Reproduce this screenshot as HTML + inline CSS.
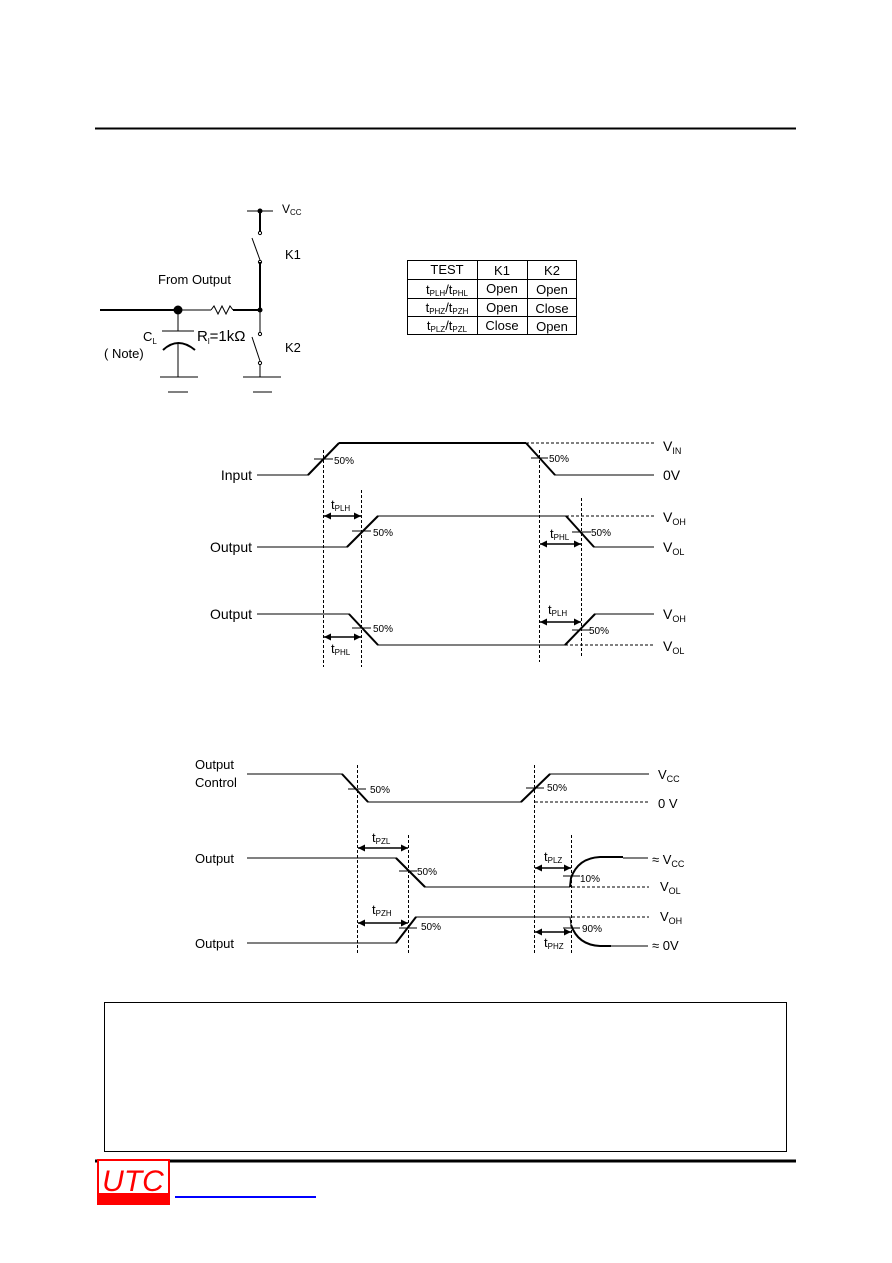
<!DOCTYPE html>
<html><head><meta charset="utf-8"><style>
html,body{margin:0;padding:0;background:#fff}
svg{display:block}
text{font-family:"Liberation Sans",Arial,sans-serif;fill:#000}
</style></head><body>
<svg width="892" height="1263" viewBox="0 0 892 1263" xmlns="http://www.w3.org/2000/svg">
<defs>
<marker id="ah" viewBox="0 0 10 10" refX="10" refY="5" markerWidth="10" markerHeight="7" orient="auto-start-reverse" markerUnits="userSpaceOnUse"><path d="M0,0 L10,5 L0,10z" fill="#000"/></marker>
</defs>
<line x1="95" y1="128.5" x2="796" y2="128.5" stroke="#000" stroke-width="2"/>

<!-- circuit -->
<g stroke="#000" fill="none">
<line x1="247" y1="211" x2="273" y2="211" stroke-width="1"/>
<line x1="260" y1="211" x2="260" y2="232" stroke-width="2"/>
<line x1="252" y1="238" x2="260" y2="260" stroke-width="1"/>
<line x1="260" y1="262" x2="260" y2="310" stroke-width="2"/>
<line x1="100" y1="310" x2="178" y2="310" stroke-width="2"/>
<line x1="178" y1="310" x2="211" y2="310" stroke-width="1"/>
<polyline points="211,310 214,306 218,314 222,306 226,314 230,306 233,310" stroke-width="1"/>
<line x1="233" y1="310" x2="260" y2="310" stroke-width="2"/>
<line x1="260" y1="310" x2="260" y2="332" stroke-width="1"/>
<line x1="252" y1="337" x2="260" y2="361" stroke-width="1"/>
<line x1="260" y1="364" x2="260" y2="377" stroke-width="1"/>
<line x1="243" y1="377" x2="281" y2="377"/>
<line x1="253" y1="392" x2="272" y2="392"/>
<line x1="178" y1="310" x2="178" y2="331"/>
<line x1="162" y1="331" x2="194" y2="331"/>
<path d="M163,350 Q178,336 195,350" stroke-width="2"/>
<line x1="178" y1="343" x2="178" y2="377"/>
<line x1="160" y1="377" x2="198" y2="377"/>
<line x1="168" y1="392" x2="188" y2="392"/>
<circle cx="260" cy="233" r="1.6"/><circle cx="260" cy="262" r="1.6"/>
<circle cx="260" cy="334" r="1.6"/><circle cx="260" cy="363" r="1.6"/>
</g>
<circle cx="260" cy="211" r="2.5" fill="#000"/>
<circle cx="260" cy="310" r="2.5" fill="#000"/>
<circle cx="178" cy="310" r="4.5" fill="#000"/>
<text x="282" y="213" font-size="12">V<tspan font-size="8" dy="2">CC</tspan></text>
<text x="285" y="259" font-size="13">K1</text>
<text x="158" y="284" font-size="13">From Output</text>
<text x="143" y="341" font-size="13">C<tspan font-size="8" dy="3">L</tspan></text>
<text x="104" y="358" font-size="13">( Note)</text>
<text x="197" y="341" font-size="15">R<tspan font-size="8" dy="3">l</tspan><tspan dy="-3">=1kΩ</tspan></text>
<text x="285" y="352" font-size="13">K2</text>

<!-- table -->
<g stroke="#000" stroke-width="1" fill="none">
<rect x="407.5" y="260.5" width="169" height="74"/>
<line x1="477.5" y1="260" x2="477.5" y2="335"/>
<line x1="527.5" y1="260" x2="527.5" y2="335"/>
<line x1="407" y1="279.5" x2="577" y2="279.5"/>
<line x1="407" y1="298.5" x2="577" y2="298.5"/>
<line x1="407" y1="316.5" x2="577" y2="316.5"/>
</g>
<g font-size="13" text-anchor="middle">
<text x="447" y="274">TEST</text><text x="502" y="275">K1</text><text x="552" y="275">K2</text>
<text x="447" y="294" font-size="13">t<tspan font-size="8" dy="2">PLH</tspan><tspan dy="-2">/t</tspan><tspan font-size="8" dy="2">PHL</tspan></text>
<text x="502" y="293">Open</text><text x="552" y="294">Open</text>
<text x="447" y="312" font-size="13">t<tspan font-size="8" dy="2">PHZ</tspan><tspan dy="-2">/t</tspan><tspan font-size="8" dy="2">PZH</tspan></text>
<text x="502" y="312">Open</text><text x="552" y="313">Close</text>
<text x="447" y="330" font-size="13">t<tspan font-size="8" dy="2">PLZ</tspan><tspan dy="-2">/t</tspan><tspan font-size="8" dy="2">PZL</tspan></text>
<text x="502" y="330">Close</text><text x="552" y="331">Open</text>
</g>

<!-- timing 1 -->
<g stroke="#000" fill="none" stroke-width="1">
<polyline points="257,475 308,475 339,443 526,443 555,475 654,475"/>
<polyline points="339,443 526,443" stroke-width="2"/>
<polyline points="308,475 339,443" stroke-width="2"/><polyline points="526,443 555,475" stroke-width="2"/>
<polyline points="257,547 347,547 378,516 566,516 594,547 654,547"/>
<polyline points="347,547 378,516" stroke-width="2"/><polyline points="566,516 594,547" stroke-width="2"/>
<polyline points="257,614 349,614 378,645 565,645 595,614 654,614"/>
<polyline points="349,614 378,645" stroke-width="2"/><polyline points="565,645 595,614" stroke-width="2"/>
<g stroke-dasharray="3,2">
<line x1="526" y1="443" x2="654" y2="443"/>
<line x1="566" y1="516" x2="654" y2="516"/>
<line x1="565" y1="645" x2="654" y2="645"/>
<line x1="323.5" y1="450" x2="323.5" y2="667"/>
<line x1="361.5" y1="490" x2="361.5" y2="667"/>
<line x1="539.5" y1="450" x2="539.5" y2="662"/>
<line x1="581.5" y1="498" x2="581.5" y2="657"/>
</g>
<line x1="314" y1="459" x2="333" y2="459"/>
<line x1="531" y1="458" x2="548" y2="458"/>
<line x1="352" y1="531" x2="371" y2="531"/>
<line x1="572" y1="532" x2="591" y2="532"/>
<line x1="352" y1="628" x2="371" y2="628"/>
<line x1="572" y1="630" x2="591" y2="630"/>
<g stroke-width="1.5" marker-start="url(#ah)" marker-end="url(#ah)">
<line x1="324" y1="516" x2="361" y2="516"/>
<line x1="540" y1="544" x2="581" y2="544"/>
<line x1="324" y1="637" x2="361" y2="637"/>
<line x1="540" y1="622" x2="581" y2="622"/>
</g>
</g>
<g font-size="10">
<text x="334" y="464">50%</text><text x="549" y="462">50%</text>
<text x="373" y="536">50%</text><text x="591" y="536">50%</text>
<text x="373" y="632">50%</text><text x="589" y="634">50%</text>
</g>
<g font-size="14">
<text x="252" y="480" text-anchor="end">Input</text>
<text x="252" y="552" text-anchor="end">Output</text>
<text x="252" y="619" text-anchor="end">Output</text>
<text x="663" y="451">V<tspan font-size="9" dy="3">IN</tspan></text>
<text x="663" y="480">0V</text>
<text x="663" y="522">V<tspan font-size="9" dy="3">OH</tspan></text>
<text x="663" y="552">V<tspan font-size="9" dy="3">OL</tspan></text>
<text x="663" y="619">V<tspan font-size="9" dy="3">OH</tspan></text>
<text x="663" y="651">V<tspan font-size="9" dy="3">OL</tspan></text>
<text x="331" y="509" font-size="13">t<tspan font-size="8" dy="2">PLH</tspan></text>
<text x="550" y="538" font-size="13">t<tspan font-size="8" dy="2">PHL</tspan></text>
<text x="331" y="653" font-size="13">t<tspan font-size="8" dy="2">PHL</tspan></text>
<text x="548" y="614" font-size="13">t<tspan font-size="8" dy="2">PLH</tspan></text>
</g>

<!-- timing 2 -->
<g stroke="#000" fill="none" stroke-width="1">
<polyline points="247,774 342,774 368,802 521,802 550,774 649,774"/>
<polyline points="342,774 368,802" stroke-width="2"/><polyline points="521,802 550,774" stroke-width="2"/>
<polyline points="247,858 396,858 425,887 570,887"/>
<polyline points="396,858 425,887" stroke-width="2"/>
<path d="M570,887 L571,878 Q578,858 600,857 L623,857" stroke-width="2"/>
<line x1="623" y1="858" x2="648" y2="858"/>
<polyline points="247,943 396,943 416,917 570,917 571,925"/>
<polyline points="396,943 416,917" stroke-width="2"/>
<path d="M571,925 Q578,945 600,946 L611,946" stroke-width="2"/>
<line x1="611" y1="946" x2="648" y2="946"/>
<g stroke-dasharray="3,2">
<line x1="535" y1="802" x2="649" y2="802"/>
<line x1="572" y1="887" x2="649" y2="887"/>
<line x1="572" y1="917" x2="649" y2="917"/>
<line x1="357.5" y1="765" x2="357.5" y2="955"/>
<line x1="408.5" y1="835" x2="408.5" y2="955"/>
<line x1="534.5" y1="765" x2="534.5" y2="955"/>
<line x1="571.5" y1="835" x2="571.5" y2="955"/>
</g>
<line x1="348" y1="789" x2="366" y2="789"/>
<line x1="526" y1="788" x2="544" y2="788"/>
<line x1="399" y1="871" x2="417" y2="871"/>
<line x1="399" y1="928" x2="417" y2="928"/>
<line x1="563" y1="876" x2="580" y2="876"/>
<line x1="563" y1="928" x2="580" y2="928"/>
<g stroke-width="1.5" marker-start="url(#ah)" marker-end="url(#ah)">
<line x1="358" y1="848" x2="408" y2="848"/>
<line x1="358" y1="923" x2="408" y2="923"/>
<line x1="535" y1="868" x2="571" y2="868"/>
<line x1="535" y1="932" x2="571" y2="932"/>
</g>
</g>
<g font-size="10">
<text x="370" y="793">50%</text><text x="547" y="791">50%</text>
<text x="417" y="875">50%</text><text x="580" y="882">10%</text>
<text x="421" y="930">50%</text><text x="582" y="932">90%</text>
</g>
<g font-size="13">
<text x="195" y="769">Output</text><text x="195" y="787">Control</text>
<text x="195" y="863">Output</text><text x="195" y="948">Output</text>
<text x="658" y="779">V<tspan font-size="9" dy="3">CC</tspan></text>
<text x="658" y="808">0 V</text>
<text x="652" y="864">≈ V<tspan font-size="9" dy="3">CC</tspan></text>
<text x="660" y="891">V<tspan font-size="9" dy="3">OL</tspan></text>
<text x="660" y="921">V<tspan font-size="9" dy="3">OH</tspan></text>
<text x="652" y="950">≈ 0V</text>
<text x="372" y="842">t<tspan font-size="8" dy="2">PZL</tspan></text>
<text x="372" y="914">t<tspan font-size="8" dy="2">PZH</tspan></text>
<text x="544" y="861">t<tspan font-size="8" dy="2">PLZ</tspan></text>
<text x="544" y="947">t<tspan font-size="8" dy="2">PHZ</tspan></text>
</g>

<rect x="104.5" y="1002.5" width="682" height="149" fill="none" stroke="#000" stroke-width="1"/>
<line x1="95" y1="1161" x2="796" y2="1161" stroke="#000" stroke-width="3"/>
<rect x="97" y="1159" width="73" height="46" fill="#f00"/>
<rect x="99" y="1161" width="69" height="32" fill="#fff"/>
<text x="133" y="1191" font-family="Liberation Serif,serif" font-style="italic" font-size="30" style="fill:#f00" text-anchor="middle">UTC</text>
<line x1="175" y1="1197" x2="316" y2="1197" stroke="#00f" stroke-width="2"/>
</svg>
</body></html>
